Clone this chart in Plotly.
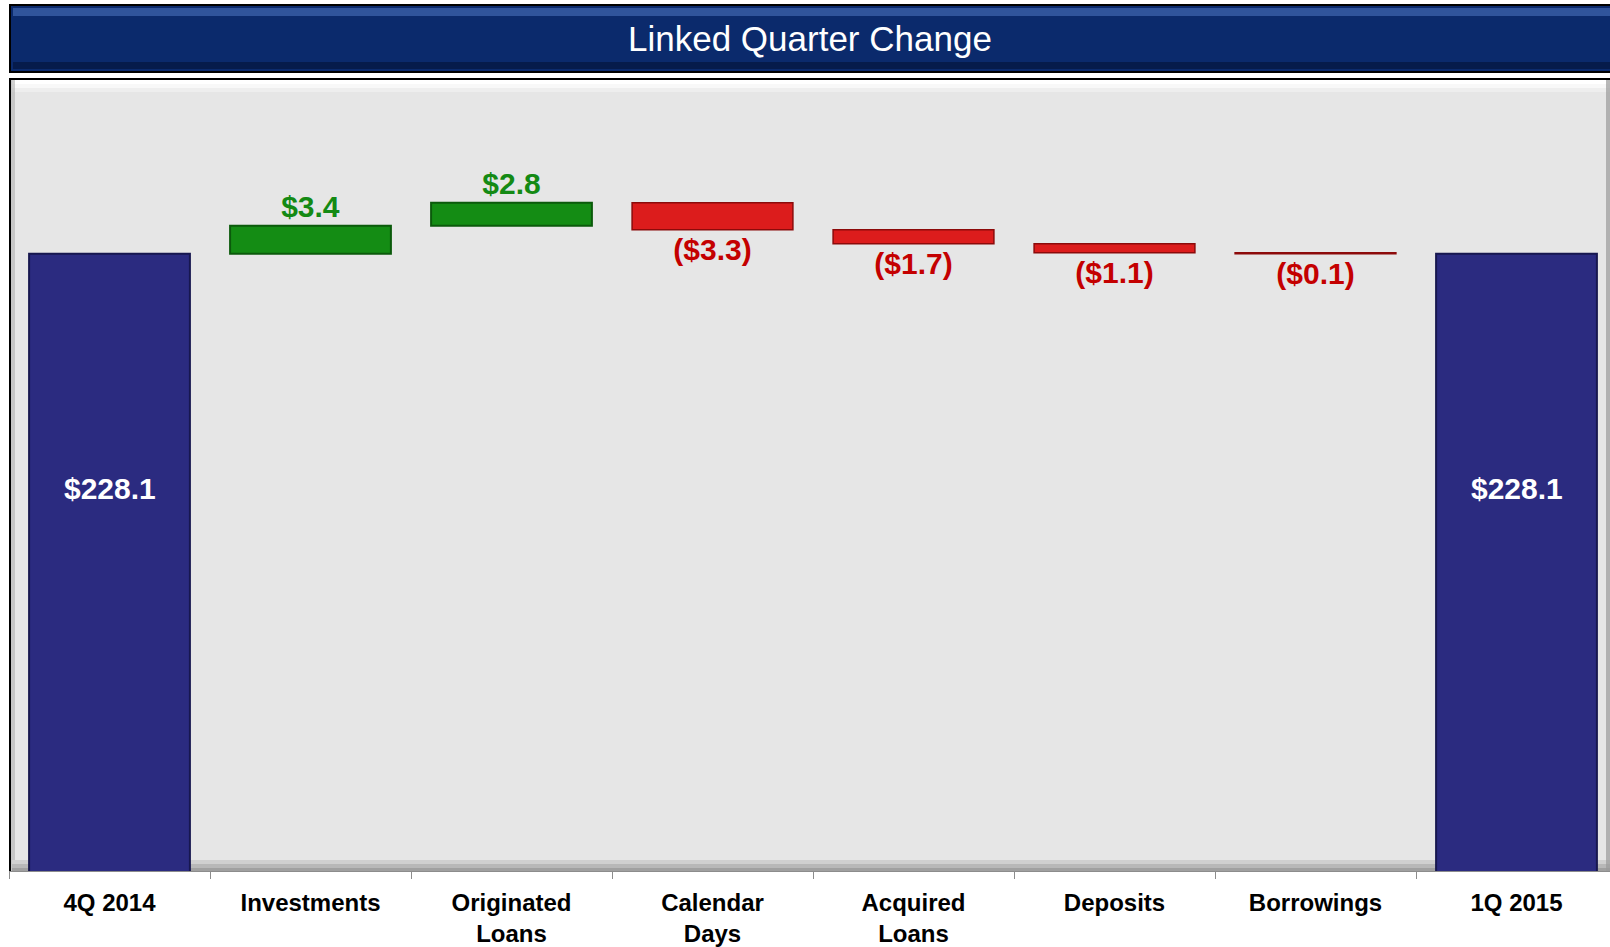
import plotly.graph_objects as go

# data
categories = ["4Q 2014", "Investments", "Originated<br>Loans", "Calendar<br>Days",
              "Acquired<br>Loans", "Deposits", "Borrowings", "1Q 2015"]
measures = ["absolute", "relative", "relative", "relative",
            "relative", "relative", "relative", "total"]
values = [228.1, 3.4, 2.8, -3.3, -1.7, -1.1, -0.1, 0]
total_labels = ["$228.1", "$228.1"]

W, H = 1610, 947
PLOT_L, PLOT_R, PLOT_T, PLOT_B = 9, 1610, 79, 871
Y_RANGE = [152.8, 249.4]

COLORS = {
    "total": "#2b2b80",
    "total_line": "#17174f",
    "up": "#148c14",
    "up_line": "#0b5a0b",
    "down": "#dc1c1c",
    "down_line": "#8c0a0a",
    "up_text": "#148a14",
    "down_text": "#c40000",
    "banner": "#0b2a6c",
    "panel": "#e6e6e6",
}


def px_x(px):
    return (px - PLOT_L) / (PLOT_R - PLOT_L)


def px_y(py):
    return (PLOT_B - py) / (PLOT_B - PLOT_T)


def fmt(v):
    return f"<b>${v:.1f}</b>" if v >= 0 else f"<b>(${abs(v):.1f})</b>"


texts = ["" if m != "relative" else fmt(v) for m, v in zip(measures, values)]
text_colors = [COLORS["up_text"] if v >= 0 else COLORS["down_text"] for v in values]

fig = go.Figure()
fig.add_trace(go.Waterfall(
    x=categories, y=values, measure=measures,
    text=texts, textposition="outside",
    textfont=dict(family="Liberation Sans, Arial", size=30, color=text_colors),
    increasing=dict(marker=dict(color=COLORS["up"], line=dict(color=COLORS["up_line"], width=2))),
    decreasing=dict(marker=dict(color=COLORS["down"], line=dict(color=COLORS["down_line"], width=1.5))),
    totals=dict(marker=dict(color=COLORS["total"], line=dict(color=COLORS["total_line"], width=2))),
    connector=dict(visible=False),
    width=0.8, cliponaxis=False, hoverinfo="skip", showlegend=False,
))

# total labels inside the navy bars
ti = 0
for i, m in enumerate(measures):
    if m in ("absolute", "total"):
        fig.add_annotation(
            x=categories[i], y=px_y(488), xref="x", yref="paper", yanchor="middle",
            text=f"<b>{total_labels[ti]}</b>", showarrow=False,
            font=dict(family="Liberation Sans, Arial", size=30, color="white"),
        )
        ti += 1

shapes = []
# title banner
shapes.append(dict(type="rect", xref="paper", yref="paper",
                   x0=px_x(10), x1=px_x(1612), y0=px_y(72), y1=px_y(5),
                   fillcolor=COLORS["banner"], line=dict(color="black", width=2), layer="above"))
shapes.append(dict(type="rect", xref="paper", yref="paper",
                   x0=px_x(13), x1=px_x(1612), y0=px_y(16), y1=px_y(8),
                   fillcolor="#3a5fa8", line=dict(width=0), opacity=0.8, layer="above"))
shapes.append(dict(type="rect", xref="paper", yref="paper",
                   x0=px_x(13), x1=px_x(1612), y0=px_y(69), y1=px_y(62),
                   fillcolor="#061a48", line=dict(width=0), opacity=0.9, layer="above"))
# panel frame: top white gradient band and dark edge
for a, b, c in [(80, 84, "#ffffff"), (84, 88, "#f8f8f8"), (88, 92, "#eeeeee")]:
    shapes.append(dict(type="rect", xref="paper", yref="paper",
                       x0=px_x(12), x1=px_x(1610), y0=px_y(b), y1=px_y(a),
                       fillcolor=c, line=dict(width=0), layer="below"))
shapes.append(dict(type="line", xref="paper", yref="paper",
                   x0=px_x(9), x1=px_x(1610), y0=px_y(79), y1=px_y(79),
                   line=dict(color="black", width=2), layer="above"))
shapes.append(dict(type="line", xref="paper", yref="paper",
                   x0=px_x(10), x1=px_x(10), y0=px_y(871), y1=px_y(79),
                   line=dict(color="black", width=2), layer="above"))
shapes.append(dict(type="rect", xref="paper", yref="paper",
                   x0=px_x(11), x1=px_x(15), y0=px_y(871), y1=px_y(80),
                   fillcolor="#b0b0b0", line=dict(width=0), opacity=0.6, layer="below"))
shapes.append(dict(type="rect", xref="paper", yref="paper",
                   x0=px_x(1606), x1=px_x(1610), y0=px_y(871), y1=px_y(80),
                   fillcolor="#9a9a9a", line=dict(width=0), opacity=0.7, layer="above"))
# bottom shadow
for a, b, c in [(860, 864, "#d0d0d0"), (864, 868, "#b8b8b8"), (868, 871, "#a0a0a0")]:
    shapes.append(dict(type="rect", xref="paper", yref="paper",
                       x0=px_x(12), x1=px_x(1610), y0=px_y(b), y1=px_y(a),
                       fillcolor=c, line=dict(width=0), layer="below"))

fig.add_annotation(
    x=px_x(810), y=px_y(38), xref="paper", yref="paper", yanchor="middle",
    text="Linked Quarter Change", showarrow=False,
    font=dict(family="Liberation Sans, Arial", size=35, color="white"),
)

n = len(categories)
x_end = (PLOT_R - PLOT_L) / ((1617 - PLOT_L) / n) - 0.5

fig.update_layout(
    width=W, height=H,
    margin=dict(l=PLOT_L, r=W - PLOT_R, t=PLOT_T, b=H - PLOT_B, autoexpand=False),
    plot_bgcolor=COLORS["panel"], paper_bgcolor="white",
    shapes=shapes,
    font=dict(family="Liberation Sans, Arial", color="black"),
    xaxis=dict(
        type="category", range=[-0.5, x_end], tickson="boundaries",
        ticks="outside", ticklen=7, tickcolor="#8c8c8c",
        showline=True, linecolor="#8c8c8c", linewidth=1, automargin=False,
        showgrid=False, tickfont=dict(size=24, color="black", family="Liberation Sans, Arial"),
        ticklabelstandoff=10,
    ),
    yaxis=dict(range=Y_RANGE, visible=False, showgrid=False, automargin=False),
)
fig.update_xaxes(ticktext=[f"<b>{c}</b>" for c in categories], tickvals=categories)

# drop the browser's default body margin so the figure sits at the page corner
fig.write_html("out.html", config={"displayModeBar": False},
               post_script="document.body.style.margin='0';")
